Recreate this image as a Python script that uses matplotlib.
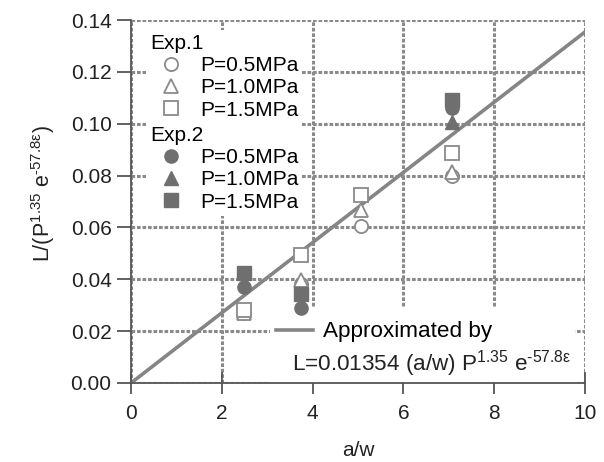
import matplotlib
matplotlib.use("Agg")
import matplotlib.pyplot as plt
from matplotlib.patches import Rectangle

plt.rcParams['font.family'] = ['Liberation Sans', 'DejaVu Sans']
plt.rcParams['mathtext.fontset'] = 'custom'
plt.rcParams['mathtext.rm'] = 'Liberation Sans'
plt.rcParams['mathtext.it'] = 'Liberation Sans:italic'
plt.rcParams['mathtext.default'] = 'regular'

# Normalised crack length L / (P^1.35 e^-57.8eps) versus a/w
exp1_p05_x = [2.49, 3.74, 5.07, 7.07]
exp1_p05_y = [0.027, 0.038, 0.0605, 0.080]
exp1_p10_x = [2.49, 3.74, 5.07, 7.07]
exp1_p10_y = [0.027, 0.0397, 0.0667, 0.0814]
exp1_p15_x = [2.49, 3.74, 5.07, 7.07]
exp1_p15_y = [0.028, 0.0494, 0.0725, 0.0887]

exp2_p05_x = [2.49, 3.74, 7.07]
exp2_p05_y = [0.037, 0.029, 0.106]
exp2_p10_x = [7.07]
exp2_p10_y = [0.1006]
exp2_p15_x = [2.49, 3.74, 7.07]
exp2_p15_y = [0.0425, 0.0345, 0.109]

fit_coef = 0.01354
fit_x = [0.0, 10.0]

x_ticks = [0, 2, 4, 6, 8, 10]
y_ticks = [0.00, 0.02, 0.04, 0.06, 0.08, 0.10, 0.12, 0.14]

OPEN_EDGE = '#8a8a8a'
FILLED = '#6f6f6f'
LINE = '#858585'
TEXT = '#222222'
MS = 9.5
FS = 15

fig = plt.figure(figsize=(6.04, 4.62), dpi=100)
ax = fig.add_axes([131 / 604, 1 - 383 / 462, 454 / 604, 363 / 462])
ax.set_axisbelow(True)

ax.set_xlim(0, 10)
ax.set_ylim(0, 0.14)
ax.set_xticks(x_ticks)
ax.set_yticks(y_ticks)
ax.set_yticklabels([f"{v:.2f}" for v in y_ticks])

for side in ('top', 'right'):
    ax.spines[side].set_visible(False)
for side in ('left', 'bottom'):
    ax.spines[side].set_color('#555555')
    ax.spines[side].set_linewidth(1.3)

ax.tick_params(axis='x', direction='inout', length=16, width=1.3, color='#555555',
               labelsize=FS, pad=7, labelcolor=TEXT)
ax.tick_params(axis='y', direction='out', length=10, width=1.3, color='#555555',
               labelsize=FS, pad=4, labelcolor=TEXT)
ax.grid(True, color='#8a8a8a', linewidth=2.2, linestyle=(0, (1.2, 0.6)))

# white background behind the fit annotation
ax.add_patch(Rectangle(((270 - 131) / 454, 0.0), (575 - 270) / 454, (383 - 307) / 363,
                       transform=ax.transAxes, facecolor='white', edgecolor='none', zorder=1))

# approximation line
fit_y = [fit_coef * v for v in fit_x]
fit_line, = ax.plot(fit_x, fit_y, color=LINE, linewidth=2.6, zorder=2)

def open_style(marker):
    return dict(marker=marker, linestyle='none', markersize=MS, markerfacecolor='white',
                markeredgecolor=OPEN_EDGE, markeredgewidth=1.3)

def filled_style(marker):
    return dict(marker=marker, linestyle='none', markersize=MS, markerfacecolor=FILLED,
                markeredgecolor=FILLED, markeredgewidth=1.0)

h1 = ax.plot(exp1_p05_x, exp1_p05_y, zorder=3, **open_style('o'))[0]
h2 = ax.plot(exp1_p10_x, exp1_p10_y, zorder=3, **open_style('^'))[0]
h3 = ax.plot(exp1_p15_x, exp1_p15_y, zorder=3, **open_style('s'))[0]
h4 = ax.plot(exp2_p10_x, exp2_p10_y, zorder=4, **filled_style('^'))[0]
h6 = ax.plot(exp2_p15_x, exp2_p15_y, zorder=4, **filled_style('s'))[0]
h5 = ax.plot(exp2_p05_x, exp2_p05_y, zorder=4, **filled_style('o'))[0]

ax.set_xlabel('a/w', fontsize=FS, color=TEXT)
ax.xaxis.set_label_coords(0.5, (383 - 441) / 363)
ax.set_ylabel('L/(P$^{1.35}$ e$^{\u201057.8\\varepsilon}$)', fontsize=15.5, color=TEXT)
ax.yaxis.set_label_coords((57 - 131) / 454, (383 - 194) / 363)

labels = ['P=0.5MPa', 'P=1.0MPa', 'P=1.5MPa']
leg_kw = dict(loc='upper left', fontsize=FS, title_fontsize=FS, alignment='left',
              frameon=True, fancybox=False, framealpha=1, facecolor='white',
              edgecolor='none', borderpad=0.2, borderaxespad=0, labelspacing=0.15,
              handlelength=2.0, handletextpad=0.38)

leg1 = ax.legend([h1, h2, h3], labels, title='Exp.1',
                 bbox_to_anchor=((146 - 131) / 454, (383 - 30) / 363), **leg_kw)
leg1.set_zorder(5)
ax.add_artist(leg1)
leg2 = ax.legend([h5, h4, h6], labels, title='Exp.2',
                 bbox_to_anchor=((146 - 131) / 454, (383 - 122) / 363), **leg_kw)
leg2.set_zorder(5)
ax.add_artist(leg2)

leg3 = ax.legend([fit_line], ['Approximated by'], loc='center left', fontsize=16.2,
                 frameon=False, borderpad=0, borderaxespad=0, handlelength=1.65,
                 handletextpad=0.45, bbox_to_anchor=((276 - 131) / 454, (383 - 332) / 363))
leg3.set_zorder(5)

ax.text((292 - 131) / 454, (383 - 364) / 363,
        'L=0.01354 (a/w) P$^{1.35}$ e$^{\u201057.8\\varepsilon}$',
        transform=ax.transAxes, fontsize=16.2, color=TEXT, va='center', ha='left', zorder=5)

fig.savefig('out.png', dpi=100)
